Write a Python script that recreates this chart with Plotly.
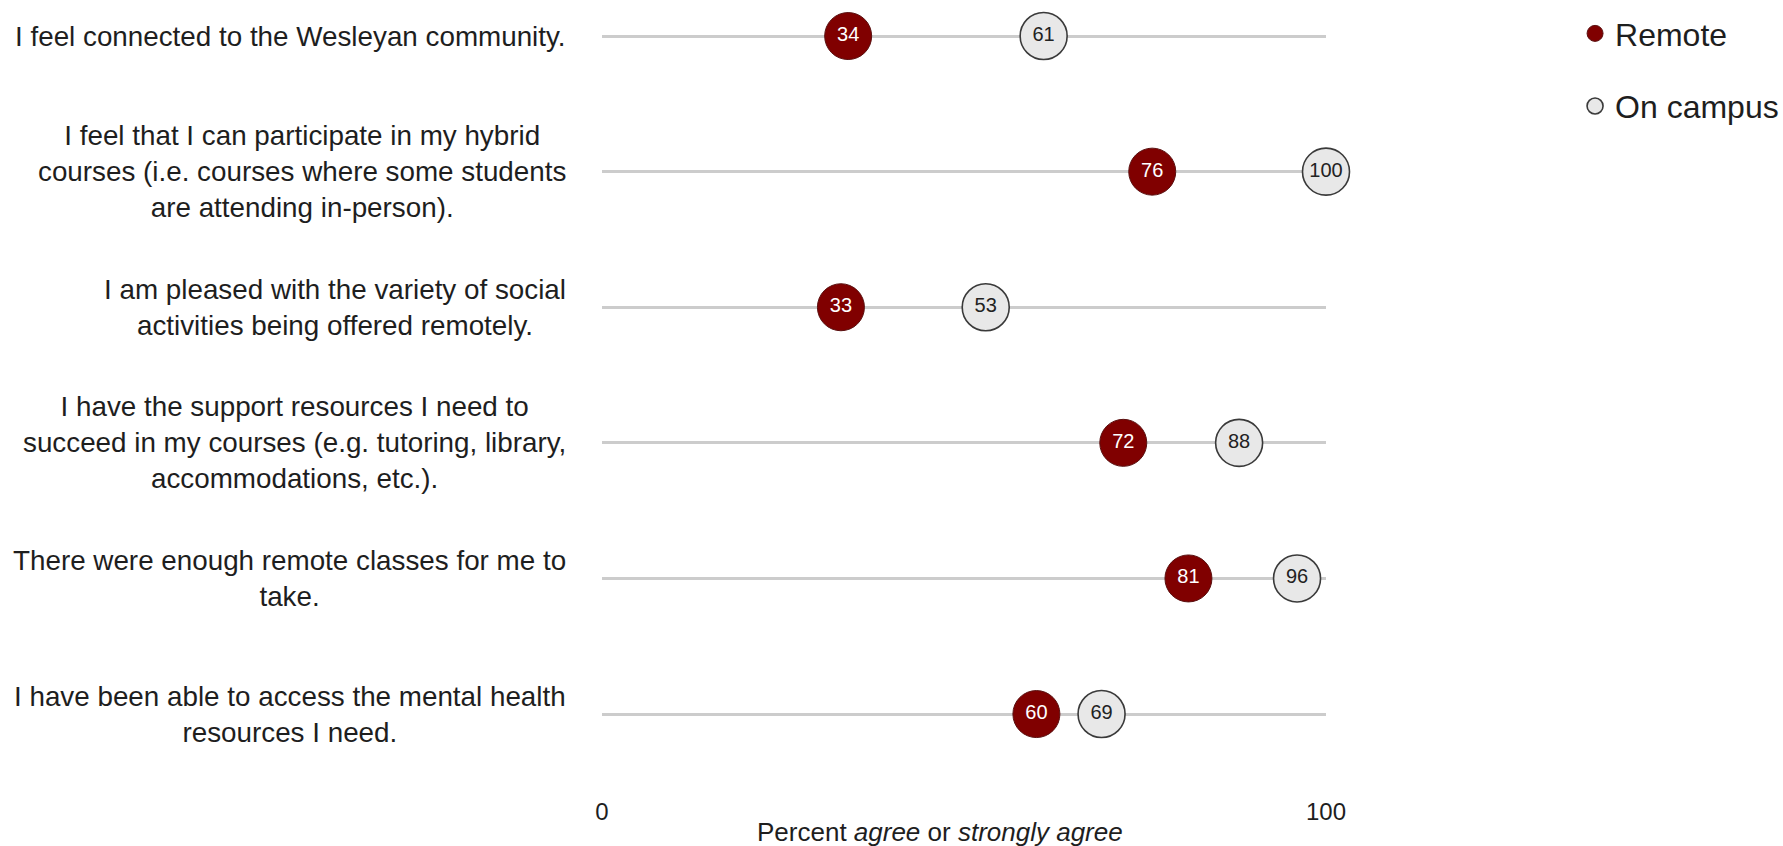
import plotly.graph_objects as go

categories = [
    "I feel connected to the Wesleyan community.",
    "I feel that I can participate in my hybrid<br>courses (i.e. courses where some students<br>are attending in-person).",
    "I am pleased with the variety of social<br>activities being offered remotely.",
    "I have the support resources I need to<br>succeed in my courses (e.g. tutoring, library,<br>accommodations, etc.).",
    "There were enough remote classes for me to<br>take.",
    "I have been able to access the mental health<br>resources I need.",
]
remote = [34, 76, 33, 72, 81, 60]
on_campus = [61, 100, 53, 88, 96, 69]
x_ticks = [0, 100]
x_tick_labels = ["0", "100"]
x_title = "Percent <i>agree</i> or <i>strongly agree</i>"

FONT = "Liberation Sans, Arial, sans-serif"
W, H = 1783, 846
L, R, T, B = 602, 457, 10, 51

fig = go.Figure()
fig.add_trace(go.Scatter(
    x=on_campus, y=categories, mode="markers+text", name="On campus",
    text=[str(v) for v in on_campus], textposition="middle center",
    textfont=dict(family=FONT, size=20, color="#222222"),
    marker=dict(size=47, color="#e8e8e8", line=dict(color="#3a3a3a", width=1.6)),
    cliponaxis=False, legendgroup="b", legendrank=2, hoverinfo="skip",
))
fig.add_trace(go.Scatter(
    x=remote, y=categories, mode="markers+text", name="Remote",
    text=[str(v) for v in remote], textposition="middle center",
    textfont=dict(family=FONT, size=20, color="#ffffff"),
    marker=dict(size=47, color="#800000", line=dict(color="#5a1010", width=1)),
    cliponaxis=False, legendgroup="a", legendrank=1, hoverinfo="skip",
))

for c in categories:
    fig.add_annotation(
        x=-0.0464, xref="paper", y=c, yref="y", text=c, showarrow=False,
        xanchor="right", yanchor="middle", align="center",
        font=dict(family=FONT, size=27.8, color="#1e1e1e"),
    )

fig.add_annotation(
    x=0.467, xref="paper", y=-0.0475, yref="paper", text=x_title,
    showarrow=False, xanchor="center", yanchor="middle",
    font=dict(family=FONT, size=26, color="#1e1e1e"),
)

fig.update_layout(
    width=W, height=H, margin=dict(l=L, r=R, t=T, b=B, autoexpand=False),
    paper_bgcolor="white", plot_bgcolor="white",
    font=dict(family=FONT, color="#1e1e1e"),
    xaxis=dict(
        range=[0, 100], tickvals=x_ticks, ticktext=x_tick_labels,
        showgrid=False, zeroline=False, showline=False, ticks="",
        tickfont=dict(family=FONT, size=24, color="#1e1e1e"),
        automargin=False,
    ),
    yaxis=dict(
        categoryorder="array", categoryarray=categories,
        range=[5.597, -0.192], showticklabels=False, ticks="",
        showgrid=True, gridcolor="#cccccc", gridwidth=2.5,
        zeroline=False, showline=False, automargin=False,
    ),
    showlegend=True,
    legend=dict(
        x=1.344, xanchor="left", y=1.005, yanchor="top",
        font=dict(family=FONT, size=32, color="#1e1e1e"),
        traceorder="grouped", tracegroupgap=28, itemsizing="trace",
        bgcolor="rgba(0,0,0,0)",
    ),
)

fig.write_html(
    "out.html",
    config={"displayModeBar": False},
    post_script="document.body.style.margin='0';document.body.style.overflow='hidden';",
)
